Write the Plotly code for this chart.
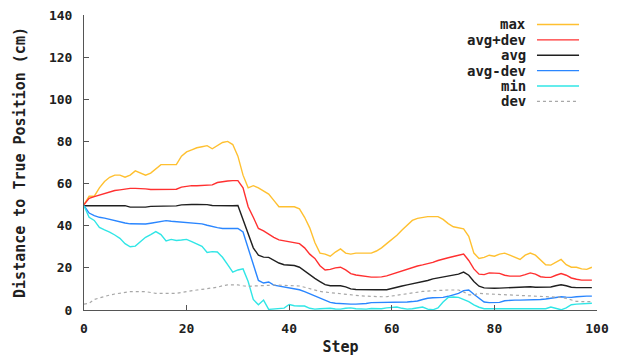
import plotly.graph_objects as go

steps = list(range(100))

max_vals = [50, 54, 54, 58, 61, 63, 64, 64, 63, 64, 66, 65, 64, 65, 67, 69, 69, 69, 69, 73,
            75, 76, 77, 77.5, 78, 76.5, 78, 79.5, 80, 78.5, 73, 64, 58, 59, 58, 56.5, 55, 52, 49, 49,
            49, 49, 48, 44, 39, 32, 27, 26.5, 25.5, 27.5, 29, 27, 26.5, 27, 27, 27, 27, 28, 29.5, 31.5,
            33.5, 35.5, 38, 40.5, 42.5, 43.5, 44, 44.3, 44.3, 44.3, 43, 41, 39.5, 39, 38.5, 35, 27, 24.5, 25, 26,
            25.5, 26.5, 27, 26, 25, 24, 26, 27, 26, 23.5, 21.5, 21.3, 22.5, 24, 21.5, 20.3, 20.3, 19.5, 19.3, 20.3]

avg_plus_dev = [50, 53, 53.8, 54.5, 55.3, 56, 56.7, 57, 57.4, 57.7, 57.7, 57.7, 57.5, 57.2, 57.2, 57.2, 57.2, 57.2, 57.3, 58.3,
                58.8, 59, 59, 59.2, 59.3, 59.4, 60.5, 61, 61.2, 61.4, 61.4, 58, 49, 44, 38.7, 37.5, 35.8, 34.5, 33.3, 32.8,
                32.4, 32, 31.5, 29.5, 26.5, 24.5, 21, 19, 19.3, 20, 20.3, 19, 17.3, 16.6, 16.2, 15.8, 15.6, 15.6, 15.7, 16.2,
                17, 17.8, 18.6, 19.5, 20.4, 20.9, 21.4, 21.9, 22.6, 23.5, 24.3, 24.8, 25.4, 26, 26.6, 23.5, 19.5, 17, 16.8, 17.6,
                17.4, 17.4, 16.5, 16.1, 16.1, 16.1, 16.8, 17.6, 17, 15.8, 15.5, 15.5, 16.5, 17.3, 16.5, 15.2, 14.6, 14.2, 14.2, 14.2]

avg_vals = [49.5, 49.5, 49.5, 49.5, 49.5, 49.5, 49.5, 49.5, 49.5, 48.8, 48.7, 48.7, 48.8, 49.2, 49.3, 49.3, 49.3, 49.3, 49.4, 49.9,
            50.1, 50.1, 50.1, 50.1, 50, 49.6, 49.5, 49.5, 49.5, 49.5, 49.6, 43, 36, 29.5, 26, 25.1, 25, 23.5, 22.3, 21.5,
            21.2, 21.1, 20.3, 18.5, 16.6, 15, 13.5, 12, 11.5, 11.5, 11.5, 11, 10, 9.7, 9.6, 9.6, 9.6, 9.6, 9.6, 9.6,
            10.2, 10.9, 11.4, 11.9, 12.4, 12.8, 13.3, 14, 14.8, 15.2, 15.6, 16, 16.5, 17, 18, 16.5, 13.5, 11.3, 10.5, 10.3,
            10.3, 10.4, 10.5, 10.7, 10.9, 11, 11.1, 11, 10.8, 10.8, 10.8, 10.9, 11.5, 12, 11.5, 10.8, 10.6, 10.6, 10.6, 10.6]

avg_minus_dev = [49.5, 46, 44.8, 44, 43.6, 43, 42.2, 41.8, 41.3, 40.9, 40.8, 40.8, 40.8, 41.2, 41.6, 42, 42.4, 42.1, 41.9, 41.8,
                 41.7, 41.6, 41.2, 40.9, 40.2, 39.5, 39.1, 38.7, 38.7, 38.7, 38.7, 37, 29, 21, 14, 12.8, 13.3, 11.8, 11.3, 11,
                 10.6, 10.1, 9.6, 8.7, 7.7, 6.6, 5.5, 4.5, 3.6, 3.2, 3, 2.8, 2.8, 2.8, 2.8, 3.1, 3.5, 3.5, 3.5, 3.5,
                 3.5, 3.5, 3.6, 3.8, 4, 4.3, 5, 5.6, 5.8, 5.9, 6, 6.5, 7.2, 7.9, 9.2, 9.5, 7.5, 5.5, 3.8, 3.5,
                 3.5, 3.6, 4.4, 4.7, 4.7, 4.7, 4.7, 4.7, 4.8, 5, 5.2, 5.5, 6, 6.3, 6.1, 6, 6.3, 6.6, 6.6, 6.6]

min_vals = [49.5, 44, 42.5, 39.2, 38, 37, 35.6, 34, 31.5, 30, 30.3, 32.3, 34.5, 35.8, 37.2, 35.8, 32.8, 33.5, 33, 33.2,
            33.5, 32.4, 31.4, 30.2, 27.3, 27.7, 27.5, 25, 21.5, 18, 19, 19.5, 13.5, 5, 2.5, 4.7, 0.3, 0.5, 0.7, 0.9,
            2.6, 2, 1.9, 1.9, 0.8, 0.4, 0.6, 0.8, 0.8, 0.5, 0.4, 0.8, 1, 0.6, 0.4, 0.4, 0.7, 0.5, 0.6, 1,
            1.3, 1.4, 0.8, 0.4, 0.6, 1, 1.4, 0.4, 0.1, 1, 3.8, 6, 6.2, 6, 5, 4, 2.4, 1.3, 0.6, 0.6,
            0.5, 0.5, 0.5, 0.5, 0.5, 0.5, 0.5, 0.5, 0.5, 0.4, 0.6, 1.4, 0.8, 0.1, 1, 2.5, 2.8, 3, 3.2, 3.2]

dev_vals = [2.8, 3.2, 5, 5.8, 6.5, 7.1, 7.6, 8, 8.4, 8.7, 8.7, 8.7, 8.7, 8.3, 7.9, 7.9, 7.9, 7.9, 7.9, 8.3,
            8.8, 9.2, 9.5, 9.8, 10.1, 10.3, 10.8, 11.5, 11.9, 11.9, 11.9, 11.5, 11.2, 11.4, 11.4, 11.5, 11.7, 11.9, 11.8, 11.7,
            11.6, 11.5, 11.4, 10.8, 10.1, 9.4, 8.8, 8.5, 8.2, 7.9, 7.6, 7.3, 7.1, 6.9, 6.7, 6.6, 6.4, 6.3, 6.3, 6.3,
            6.7, 7, 7.4, 7.8, 8.1, 8.5, 8.8, 9, 9.2, 9.3, 9.4, 9.5, 9.5, 9.5, 8.6, 7.2, 7.2, 7.9, 7.7, 7.6,
            7.5, 7.4, 7.3, 7.2, 7.1, 7, 6.9, 6.8, 6.7, 6.6, 6.5, 6.4, 6.3, 6, 5.5, 4.8, 4.1, 4, 4, 4]

series_names = ["max", "avg+dev", "avg", "avg-dev", "min", "dev"]
series_values = [max_vals, avg_plus_dev, avg_vals, avg_minus_dev, min_vals, dev_vals]
series_colors = ["#ffc030", "#ff3030", "#202020", "#2a86ff", "#30e6e6", "#a8a8a8"]
series_dash = ["solid", "solid", "solid", "solid", "solid", "dot"]

x_ticks = [0, 20, 40, 60, 80, 100]
y_ticks = [0, 20, 40, 60, 80, 100, 120, 140]

FONT = "DejaVu Sans Mono"

fig = go.Figure()
for name, vals, col, dash in zip(series_names, series_values, series_colors, series_dash):
    fig.add_trace(go.Scatter(x=steps, y=vals, mode="lines", name=name,
                             line=dict(color=col, width=1.4 if dash == "solid" else 1.2, dash=dash),
                             showlegend=False, hoverinfo="skip"))

# custom legend (text right-aligned, sample line to the right)
leg_top = 0.968
leg_step = 0.0522
for i, (name, col, dash) in enumerate(zip(series_names, series_colors, series_dash)):
    yy = leg_top - i * leg_step
    fig.add_annotation(x=0.866, y=yy, xref="paper", yref="paper", text="<b>" + name + "</b>",
                       showarrow=False, xanchor="right", yanchor="middle",
                       font=dict(family=FONT, size=14, color="#202020"))
    fig.add_shape(type="line", xref="paper", yref="paper", x0=0.883, x1=0.965, y0=yy, y1=yy,
                  line=dict(color=col, width=1.4 if dash == "solid" else 1.2, dash=dash))

fig.update_layout(
    width=633, height=358,
    margin=dict(l=84, r=36, t=15, b=48, autoexpand=False),
    paper_bgcolor="white", plot_bgcolor="white",
    font=dict(family=FONT, size=13, color="#202020"),
    showlegend=False,
)
fig.update_xaxes(range=[0, 100], tickvals=x_ticks, ticktext=["<b>%d</b>" % v for v in x_ticks],
                 ticks="inside", ticklen=5, tickcolor="#555", showline=True, linecolor="#555", linewidth=1,
                 showgrid=False, zeroline=False, automargin=False, ticklabelstandoff=6,
                 title=dict(text="<b>Step</b>", font=dict(family=FONT, size=15), standoff=6))
fig.update_yaxes(range=[0, 140], tickvals=y_ticks, ticktext=["<b>%d</b>" % v for v in y_ticks],
                 ticks="inside", ticklen=5, tickcolor="#555", showline=True, linecolor="#555", linewidth=1,
                 showgrid=False, zeroline=False, ticklabelstandoff=8, automargin=False,
                 title=dict(text="<b>Distance to True Position (cm)</b>", font=dict(family=FONT, size=15), standoff=19))

fig.write_html("out.html", config={"displayModeBar": False},
               post_script="document.body.style.margin='0';document.body.style.overflow='hidden';")
